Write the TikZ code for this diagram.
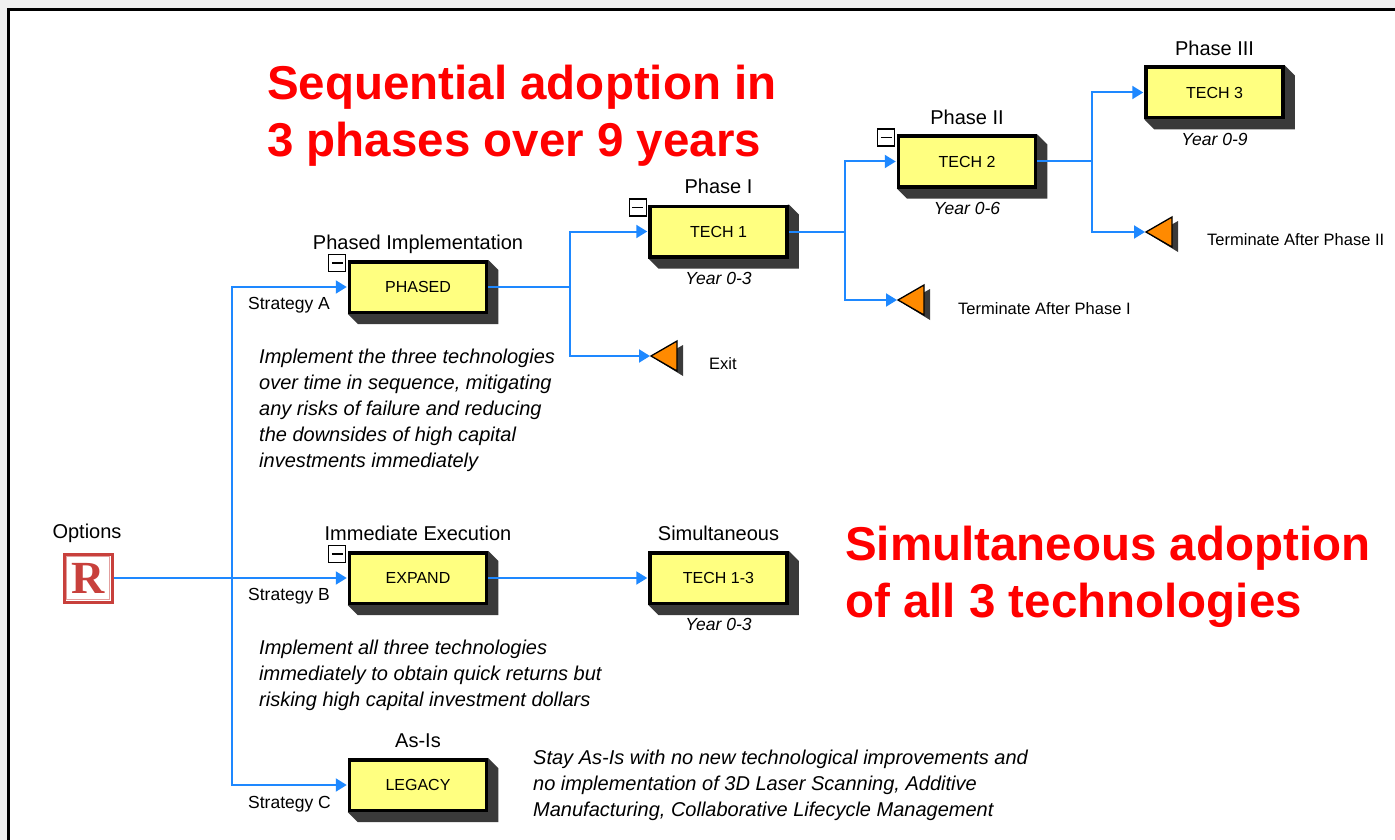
\documentclass[tikz,border=0pt]{standalone}
\usepackage{fontspec}
\setmainfont{Liberation Sans}
\newfontfamily\serifR{Liberation Serif}
\usetikzlibrary{arrows.meta,calc}
\definecolor{boxyellow}{HTML}{FFFF80}
\definecolor{linkblue}{HTML}{1E88FF}
\definecolor{shadowgrey}{HTML}{3A3A3A}
\definecolor{termorange}{HTML}{FF8A00}
\definecolor{iconred}{HTML}{C8403C}
\definecolor{pagegrey}{HTML}{F0F0F0}
\pgfdeclarelayer{bglayer}
\pgfdeclarelayer{shlayer}
\pgfsetlayers{bglayer,shlayer,main}
\tikzset{
 techbox/.style={draw=black, line width=3.5pt, fill=boxyellow, minimum width=137pt, minimum height=50.5pt, inner sep=0pt, font=\fontsize{16}{19}\selectfont},
 boxtitle/.style={anchor=base, inner sep=0pt, font=\fontsize{20}{24}\selectfont},
 yearlabel/.style={inner sep=0pt, font=\fontsize{17.5}{21}\selectfont\itshape},
 stratlabel/.style={anchor=base west, inner sep=0pt, font=\fontsize{17.5}{21}\selectfont},
 termlabel/.style={anchor=west, inner sep=0pt, font=\fontsize{16.5}{20}\selectfont},
 desc/.style={anchor=base west, inner sep=0pt, align=left, font=\fontsize{20}{26}\selectfont\itshape},
 headline/.style={anchor=base west, inner sep=0pt, align=left, text=red, font=\fontsize{47.5}{57}\selectfont\bfseries},
 link/.style={draw=linkblue, line width=2pt, shorten >=1pt, -{Triangle[length=11pt,width=13pt]}},
 plainlink/.style={draw=linkblue, line width=2pt},
 collapse/.style={draw=black, line width=1.2pt, fill=white, minimum size=17pt, inner sep=0pt,
   path picture={\draw[line width=1.5pt] ([xshift=3pt]path picture bounding box.west) -- ([xshift=-3pt]path picture bounding box.east);}},
}
\newcommand\boxshadow[1]{%
 \begin{pgfonlayer}{shlayer}
 \fill[shadowgrey] (#1.south west) -- ++(10,10) -- ($(#1.south east)+(10,10)$) -- ($(#1.north east)+(10,10)$) -- (#1.north east) -- cycle;
 \end{pgfonlayer}}
\newcommand\termtri[2]{%
 \coordinate (#1) at (#2);
 \begin{pgfonlayer}{shlayer}
 \fill[shadowgrey] ($(#1)+(6,4)$) -- ($(#1)+(32,-11)$) -- ($(#1)+(32,20)$) -- cycle;
 \end{pgfonlayer}
 \draw[fill=termorange, line width=1.3pt, line join=miter] (#1) -- ($(#1)+(26,-15)$) -- ($(#1)+(26,15)$) -- cycle;}
\begin{document}
\begin{tikzpicture}[x=1pt,y=-1pt]
\useasboundingbox (0,0) rectangle (1395,840);
\begin{pgfonlayer}{bglayer}
 \fill[pagegrey] (0,0) rectangle (1395,840);
 \fill[white] (8.5,9.5) rectangle (1400,845);
 \draw[black, line width=3.5pt] (8.5,850) -- (8.5,9.5) -- (1400,9.5);
\end{pgfonlayer}

% headlines (anchor = baseline of last line)
\node[headline] (headA) at (267,157) {Sequential adoption in\\3 phases over 9 years};
\node[headline] (headB) at (845,617) {Simultaneous adoption\\of all 3 technologies};

% root icon
\node[draw=iconred, line width=3pt, fill=white, minimum size=48pt, inner sep=0pt] (icon) at (88,578) {};
\draw[iconred!50, line width=1pt] ($(icon.north west)+(4,4)$) rectangle ($(icon.south east)+(-4,-4)$);
\node[text=iconred, inner sep=0pt, font=\serifR\fontsize{46}{46}\selectfont\bfseries] (iconR) at (icon.center) {R};
\node[boxtitle] (optlabel) at (87,538) {Options};

% boxes
\node[techbox] (phased) at (418,287) {PHASED};
\node[techbox] (tech1) at (718.5,231.5) {TECH 1};
\node[techbox] (tech2) at (967,161.5) {TECH 2};
\node[techbox] (tech3) at (1214.5,92.5) {TECH 3};
\node[techbox] (expand) at (418,578) {EXPAND};
\node[techbox] (tech13) at (718.5,578) {TECH 1-3};
\node[techbox] (legacy) at (418,785) {LEGACY};
\foreach \n in {phased,tech1,tech2,tech3,expand,tech13,legacy} {\boxshadow{\n}}

% collapse markers
\node[collapse] (cphased) at ($(phased.north west)+(-10.5,3)$) {};
\node[collapse] (ctech1) at ($(tech1.north west)+(-10.5,3)$) {};
\node[collapse] (ctech2) at ($(tech2.north west)+(-10.5,3)$) {};
\node[collapse] (cexpand) at ($(expand.north west)+(-10.5,3)$) {};

% titles
\node[boxtitle] (tphased) at ($(phased.north)+(0,-11)$) {Phased Implementation};
\node[boxtitle] (ttech1) at ($(tech1.north)+(0,-11)$) {Phase I};
\node[boxtitle] (ttech2) at ($(tech2.north)+(0,-10)$) {Phase II};
\node[boxtitle] (ttech3) at ($(tech3.north)+(0,-10)$) {Phase III};
\node[boxtitle] (texpand) at ($(expand.north)+(0,-11)$) {Immediate Execution};
\node[boxtitle] (ttech13) at ($(tech13.north)+(0,-11)$) {Simultaneous};
\node[boxtitle] (tlegacy) at ($(legacy.north)+(0,-11)$) {As-Is};

% year labels
\node[yearlabel] (ytech1) at ($(tech1.south)+(0,19.5)$) {Year 0-3};
\node[yearlabel] (ytech2) at ($(tech2.south)+(0,19.5)$) {Year 0-6};
\node[yearlabel] (ytech3) at ($(tech3.south)+(0,19.5)$) {Year 0-9};
\node[yearlabel] (ytech13) at ($(tech13.south)+(0,19.5)$) {Year 0-3};

% terminals
\termtri{exit}{651,356}
\termtri{termA}{898,300}
\termtri{termB}{1146,232}
\node[termlabel] (lexit) at (709,364) {Exit};
\node[termlabel] (ltermA) at (958,309) {Terminate After Phase I};
\node[termlabel] (ltermB) at (1207,240) {Terminate After Phase II};

% strategy labels
\node[stratlabel] (sa) at (248,309) {Strategy A};
\node[stratlabel] (sb) at (248,600) {Strategy B};
\node[stratlabel] (sc) at (248,808) {Strategy C};

% descriptions (anchor = baseline of last line)
\node[desc] (descA) at (259,467) {Implement the three technologies\\over time in sequence, mitigating\\any risks of failure and reducing\\the downsides of high capital\\investments immediately};
\node[desc] (descB) at (259,706) {Implement all three technologies\\immediately to obtain quick returns but\\risking high capital investment dollars};
\node[desc] (descC) at (533,816) {Stay As-Is with no new technological improvements and\\no implementation of 3D Laser Scanning, Additive\\Manufacturing, Collaborative Lifecycle Management};

% junctions
\coordinate (ja) at (232,578);
\coordinate (jb) at (570,287);
\coordinate (jc) at (845,231.5);
\coordinate (jd) at (1092,161.5);

% connectors
\draw[link] (icon.east) -- (expand.west);
\draw[link] (ja) |- (phased.west);
\draw[link] (ja) |- (legacy.west);
\draw[plainlink] (phased.east) -- (jb);
\draw[link] (jb) |- (tech1.west);
\draw[link] (jb) |- (exit);
\draw[plainlink] (tech1.east) -- (jc);
\draw[link] (jc) |- (tech2.west);
\draw[link] (jc) |- (termA);
\draw[plainlink] (tech2.east) -- (jd);
\draw[link] (jd) |- (tech3.west);
\draw[link] (jd) |- (termB);
\draw[link] (expand.east) -- (tech13.west);
\end{tikzpicture}
\end{document}
